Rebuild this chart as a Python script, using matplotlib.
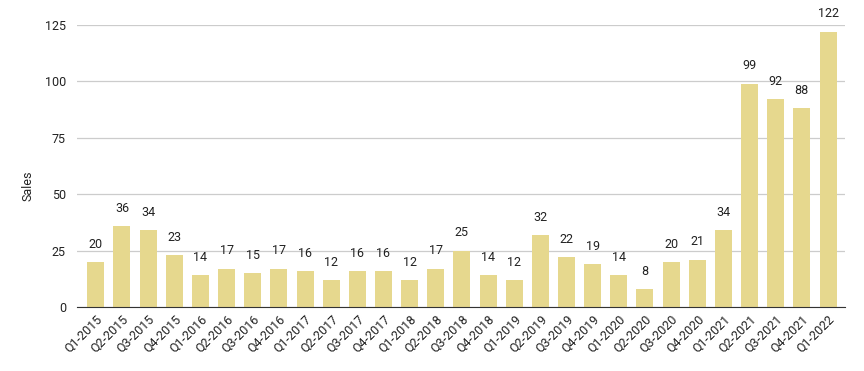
import matplotlib.pyplot as plt

plt.rcParams["font.family"] = ["Roboto", "DejaVu Sans"]

quarters = [
    "Q1-2015", "Q2-2015", "Q3-2015", "Q4-2015",
    "Q1-2016", "Q2-2016", "Q3-2016", "Q4-2016",
    "Q1-2017", "Q2-2017", "Q3-2017", "Q4-2017",
    "Q1-2018", "Q2-2018", "Q3-2018", "Q4-2018",
    "Q1-2019", "Q2-2019", "Q3-2019", "Q4-2019",
    "Q1-2020", "Q2-2020", "Q3-2020", "Q4-2020",
    "Q1-2021", "Q2-2021", "Q3-2021", "Q4-2021",
    "Q1-2022",
]
sales = [20, 36, 34, 23, 14, 17, 15, 17, 16, 12, 16, 16, 12, 17, 25, 14,
         12, 32, 22, 19, 14, 8, 20, 21, 34, 99, 92, 88, 122]
yticks = [0, 25, 50, 75, 100, 125]

fig = plt.figure(figsize=(8.64, 3.71), dpi=100)
ax = fig.add_axes([77 / 864, 1 - 307 / 371, (845 - 77) / 864, (307 - 25) / 371])

x = range(len(quarters))
bars = ax.bar(x, sales, width=0.65, color="#E6D88E", zorder=2)

for xi, v in zip(x, sales):
    ax.text(xi, v + 5, str(v), ha="center", va="bottom",
            fontsize=9, color="#222222", clip_on=False)

ax.set_xlim(-0.72, len(quarters) - 0.35)
ax.set_ylim(0, 125)
ax.set_yticks(yticks)
ax.set_xticks(list(x))
ax.set_xticklabels(quarters, rotation=45, ha="right", rotation_mode="anchor",
                   fontsize=9, color="#222222")
ax.tick_params(axis="y", labelsize=9, labelcolor="#222222", length=0, pad=8)
ax.tick_params(axis="x", length=0, pad=4)

ax.grid(axis="y", color="#cccccc", linewidth=0.9, zorder=0)
for s in ["top", "right", "left"]:
    ax.spines[s].set_visible(False)
ax.spines["bottom"].set_color("#333333")
ax.spines["bottom"].set_zorder(3)

ax.set_ylabel("Sales", fontsize=9, color="#222222")
ax.yaxis.set_label_coords(-0.055, 0.43)

plt.savefig("out.png", dpi=100)
